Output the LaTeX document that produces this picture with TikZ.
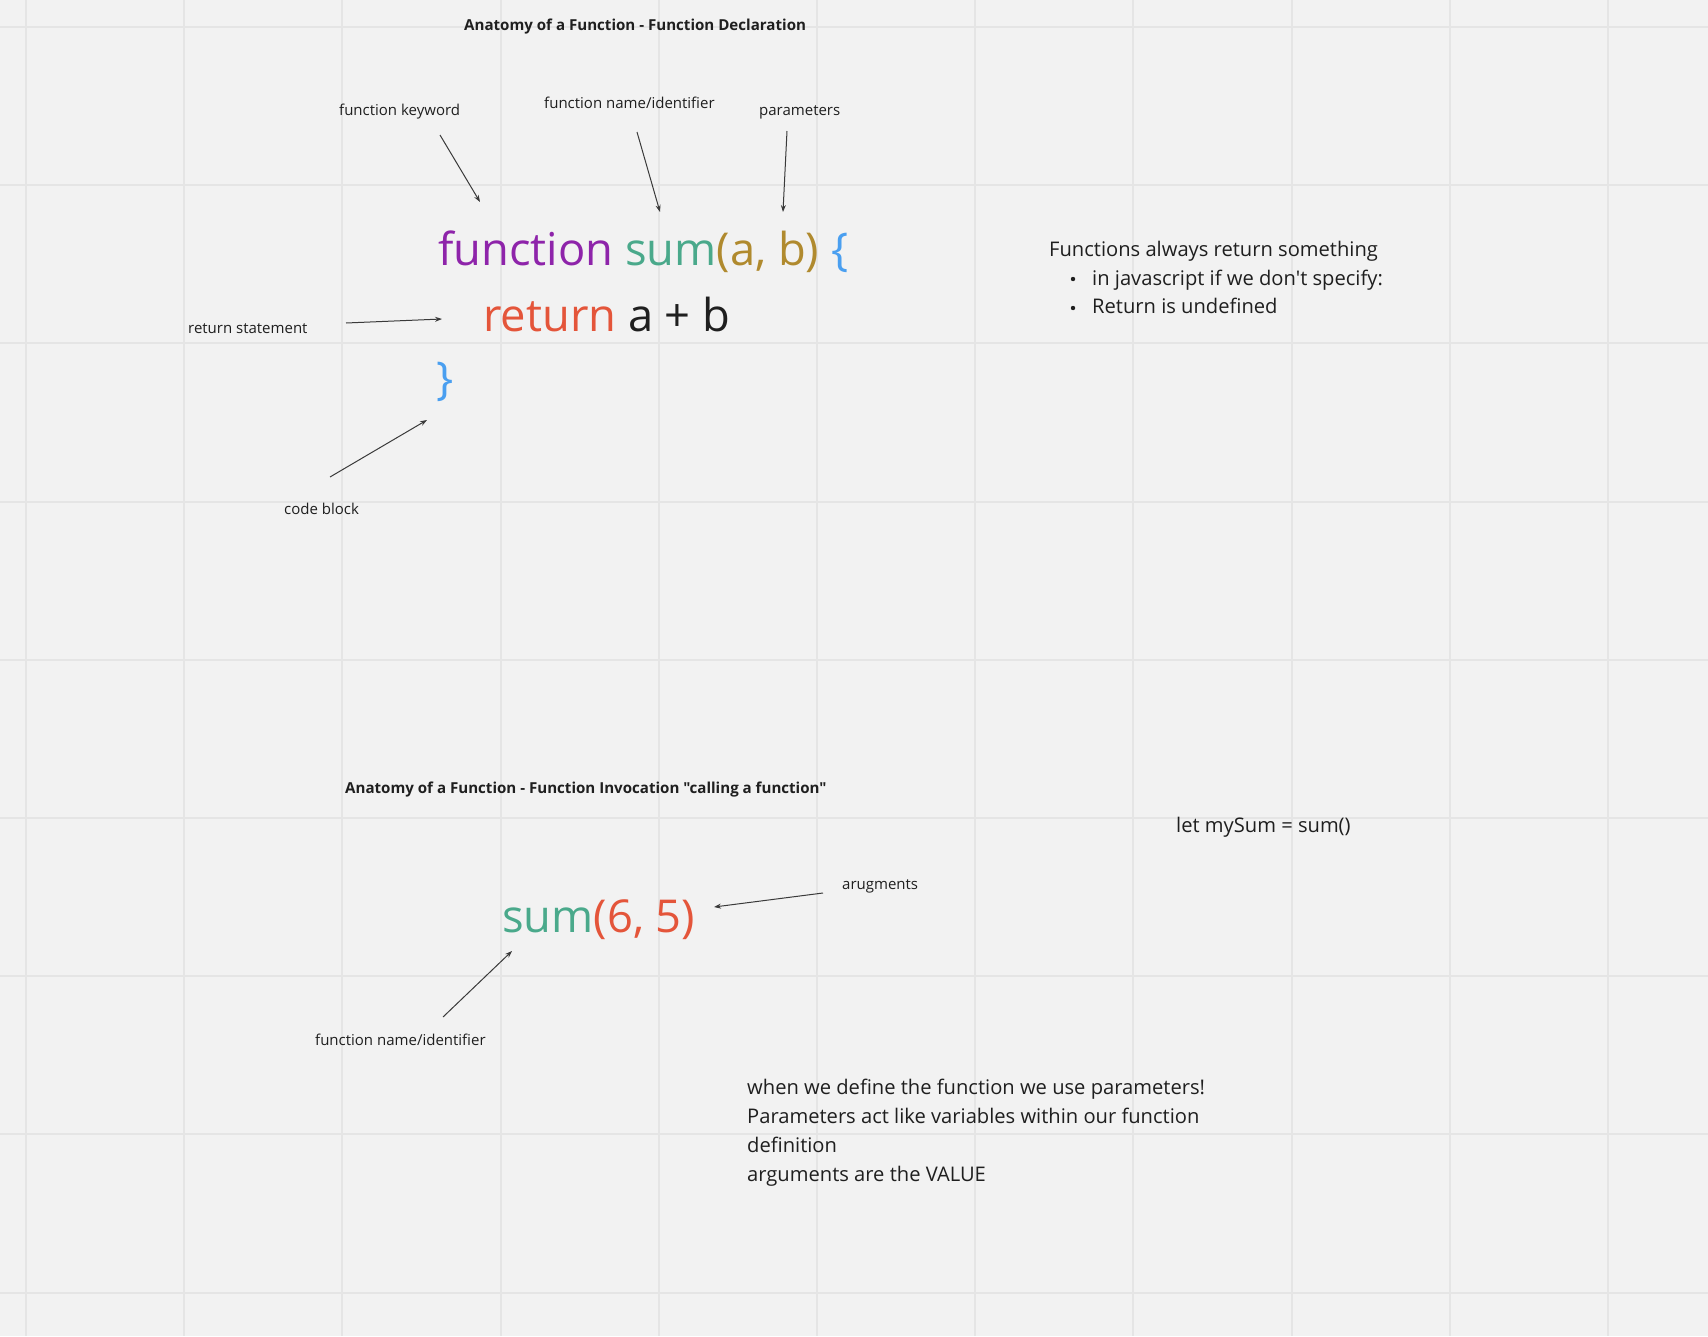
\documentclass[tikz,border=0pt]{standalone}
\usepackage{fontspec}
\setmainfont{Open Sans}[Ligatures=TeXOff]
\usetikzlibrary{arrows.meta}
\definecolor{bgc}{HTML}{F2F2F2}
\definecolor{gridc}{HTML}{E5E5E5}
\definecolor{txt}{HTML}{1F1F1F}
\definecolor{arrc}{HTML}{3A3A3A}
\definecolor{cpurple}{HTML}{8E24AA}
\definecolor{cteal}{HTML}{4AA98B}
\definecolor{cgold}{HTML}{B08A2E}
\definecolor{cblue}{HTML}{4A9FF0}
\definecolor{cred}{HTML}{E4553A}
\newcommand{\sq}{\symbol{"27}}
\newcommand{\dq}{\symbol{"22}}
\tikzset{
  lbl/.style={anchor=base west, inner sep=0pt, text=txt, font=\fontsize{15}{18}\selectfont},
  ttl/.style={anchor=base west, inner sep=0pt, text=txt, font=\fontsize{15.1}{18}\selectfont\bfseries},
  note/.style={anchor=base west, inner sep=0pt, text=txt, font=\fontsize{20.15}{29}\selectfont},
  code/.style={anchor=base west, inner sep=0pt, font=\fontsize{45.3}{54}\selectfont},
  arr/.style={draw=arrc, line width=1pt, -{Stealth[length=7pt,width=5pt]}},
  gridline/.style={draw=gridc, line width=2pt}
}
\begin{document}
\begin{tikzpicture}[x=1pt,y=-1pt]
\useasboundingbox (0,0) rectangle (1708,1336);
\fill[bgc] (0,0) rectangle (1708,1336);
% grid
\foreach \i in {0,...,10} {
  \draw[gridline] ({26+158.2*\i},0) -- ({26+158.2*\i},1336);
}
\foreach \i in {0,...,8} {
  \draw[gridline] (0,{27+158.2*\i}) -- (1708,{27+158.2*\i});
}

% ---------- Function declaration ----------
\node[ttl] (title1) at (464,30) {Anatomy of a Function - Function Declaration};

\node[lbl] (fkey) at (339,115) {function keyword};
\node[lbl] (fname) at (544,108) {function name/identifier};
\node[lbl] (params) at (759,115) {parameters};

\node[code] (line1) at (438,265) {\textcolor{cpurple}{function} \textcolor{cteal}{sum}\textcolor{cgold}{(a, b)} \textcolor{cblue}{\{}};
\node[code] (line2) at (483,331) {\textcolor{cred}{return} \textcolor{txt}{a + b}};
\node[code] (line3) at (436,394) {\textcolor{cblue}{\}}};

\node[lbl] (retlbl) at (188,333) {return statement};
\node[lbl] (cblbl) at (284,514) {code block};

\coordinate (fk-s) at (440,135);
\coordinate (fk-e) at (480,202);
\coordinate (fn-s) at (637,132);
\coordinate (fn-e) at (660,212);
\coordinate (pa-s) at (787,131);
\coordinate (pa-e) at (783,212);
\coordinate (rt-s) at (346,323);
\coordinate (rt-e) at (442,319);
\coordinate (cb-s) at (330,477);
\coordinate (cb-e) at (427,420);

\draw[arr] (fk-s) -- (fk-e);
\draw[arr] (fn-s) -- (fn-e);
\draw[arr] (pa-s) -- (pa-e);
\draw[arr] (rt-s) -- (rt-e);
\draw[arr] (cb-s) -- (cb-e);

\node[note] (fr1) at (1049,256) {Functions always return something};
\node[note] (fr2) at (1092,285) {in javascript if we don\sq t specify:};
\node[note] (fr3) at (1092,313) {Return is undefined};
\fill[txt] (1073,279) circle (2.2pt);
\fill[txt] (1073,308) circle (2.2pt);

% ---------- Function invocation ----------
\node[ttl] (title2) at (345,793) {Anatomy of a Function - Function Invocation \dq calling a function\dq};

\node[code] (call) at (502,932) {\textcolor{cteal}{sum}\textcolor{cred}{(6, 5)}};
\node[lbl] (arglbl) at (842,889) {arugments};
\node[lbl] (fname2) at (315,1045) {function name/identifier};

\coordinate (ag-s) at (823,893);
\coordinate (ag-e) at (714,907);
\coordinate (f2-s) at (443,1017);
\coordinate (f2-e) at (512,951);
\draw[arr] (ag-s) -- (ag-e);
\draw[arr] (f2-s) -- (f2-e);

\node[note] (lets) at (1176,832) {let mySum = sum()};

\node[note] (b1) at (747,1094) {when we define the function we use parameters!};
\node[note] (b2) at (747,1123) {Parameters act like variables within our function};
\node[note] (b3) at (747,1152) {definition};
\node[note] (b4) at (747,1181) {arguments are the VALUE};
\end{tikzpicture}
\end{document}
